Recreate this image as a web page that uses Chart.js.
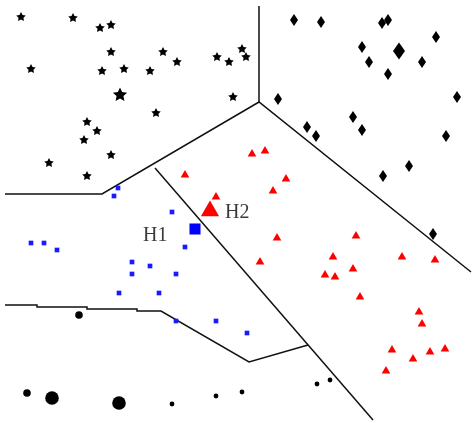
<!DOCTYPE html>
<html>
<head>
<meta charset="utf-8">
<script src="https://cdn.jsdelivr.net/npm/chart.js@4/dist/chart.umd.min.js"></script>
<style>
  html, body { margin: 0; padding: 0; background: #fff; overflow: hidden; }
  #wrap { width: 473px; height: 423px; }
</style>
</head>
<body>
<div id="wrap"><canvas id="chart" width="473" height="423"></canvas></div>
<script>
// point sets (x to the right, y downward)
const stars = [[21,17],[73,18],[100,28],[111,25],[111,52],[31,69],[102,71],[124,69],[163,52],
  [177,62],[150,71],[217,57],[229,62],[242,49],[246,57],[233,97],[156,113],[87,122],[97,131],
  [84,140],[111,155],[49,163],[87,176]];
const starsBig = [[120,95]];

const diamonds = [[294,20],[321,22],[382,23],[388,20],[436,37],[362,47],[369,62],[422,62],
  [388,74],[278,99],[457,97],[353,117],[307,127],[362,130],[316,136],[446,136],[409,166],
  [383,176],[433,234]];
const diamondsBig = [[399,51]];

const triangles = [[252,154],[265,151],[185,175],[286,179],[273,191],[216,197],[277,238],
  [356,236],[333,257],[402,257],[435,260],[260,262],[353,269],[325,275],[335,277],[360,297],
  [419,312],[422,324],[392,350],[430,352],[445,349],[413,359],[386,371]];
const triangleH2 = [[210,211]];

const squares = [[118,188],[114,196],[172,212],[185,247],[31,243],[44,243],[57,250],[132,262],
  [150,266],[132,274],[176,274],[119,293],[159,293],[176,321],[216,321],[247,333]];
const squareH1 = [[195,229]];

const dotsSmall = [[172,404],[216,396],[242,392],[317,384],[330,380]];
const dotsMid = [[79,315],[27,393]];
const dotsLarge = [[52,398],[119,403]];

// boundary polylines
const lineTop = [[259,6],[259,102]];
const lineUpper = [[5,194],[102,194],[259,102],[471,272]];
const lineDiag = [[155,168],[373,420]];
const lineLower = [[5,305],[37,305],[37,307],[87,307],[87,309],[137,309],[137,311],[161,311],
  [249,362],[308,345]];

const labels = [
  { text: "H1", at: [143,241] },
  { text: "H2", at: [225,218] },
];

const toXY = (arr) => arr.map(([x, y]) => ({ x, y }));

// even-sized canvases so drawImage lands on whole pixels
function starImage(outer, inner) {
  const size = 2 * Math.ceil(outer + 1);
  const c = document.createElement("canvas");
  c.width = c.height = size;
  const g = c.getContext("2d");
  g.translate(size / 2, size / 2);
  g.beginPath();
  for (let i = 0; i < 10; i++) {
    const r = i % 2 ? inner : outer;
    const a = -Math.PI / 2 + i * Math.PI / 5;
    g.lineTo(r * Math.cos(a), r * Math.sin(a));
  }
  g.closePath();
  g.fillStyle = "#000";
  g.fill();
  return c;
}

function diamondImage(w, h) {
  const c = document.createElement("canvas");
  c.width = 2 * Math.ceil(w / 2 + 1);
  c.height = 2 * Math.ceil(h / 2 + 1);
  const g = c.getContext("2d");
  const cx = c.width / 2, cy = c.height / 2;
  g.beginPath();
  g.moveTo(cx, cy - h / 2);
  g.lineTo(cx + w / 2, cy);
  g.lineTo(cx, cy + h / 2);
  g.lineTo(cx - w / 2, cy);
  g.closePath();
  g.fillStyle = "#000";
  g.fill();
  return c;
}

function markers(data, style, radius, color) {
  return {
    data: toXY(data),
    pointStyle: style,
    pointRadius: radius,
    pointHoverRadius: radius,
    pointBackgroundColor: color,
    pointBorderWidth: 0,
    showLine: false,
    clip: false,
    order: 0,
  };
}

function polyline(data) {
  return {
    data: toXY(data),
    showLine: true,
    borderColor: "#111",
    borderWidth: 1.5,
    pointRadius: 0,
    pointHoverRadius: 0,
    fill: false,
    clip: false,
    order: 5,
  };
}

const labelPlugin = {
  id: "hLabels",
  afterDatasetsDraw(chart) {
    const { ctx, scales } = chart;
    ctx.save();
    ctx.font = "20px 'Liberation Serif', 'DejaVu Serif', serif";
    ctx.fillStyle = "#3a3a3a";
    ctx.textBaseline = "alphabetic";
    labels.forEach((l) => {
      ctx.fillText(l.text, scales.x.getPixelForValue(l.at[0]), scales.y.getPixelForValue(l.at[1]));
    });
    ctx.restore();
  },
};

new Chart(document.getElementById("chart"), {
  type: "scatter",
  data: {
    datasets: [
      markers(stars, starImage(5, 2.6), 5, "#000"),
      markers(starsBig, starImage(7.5, 3.6), 7, "#000"),
      markers(diamonds, diamondImage(8, 12), 5, "#000"),
      markers(diamondsBig, diamondImage(12, 17), 8, "#000"),
      markers(triangles, "triangle", 5, "#ff0000"),
      markers(triangleH2, "triangle", 10.5, "#ff0000"),
      markers(squares, "rect", 3.3, "#1a1aff"),
      markers(squareH1, "rect", 7.8, "#0000ff"),
      markers(dotsSmall, "circle", 2.4, "#000"),
      markers(dotsMid, "circle", 3.8, "#000"),
      markers(dotsLarge, "circle", 6.8, "#000"),
      polyline(lineTop),
      polyline(lineUpper),
      polyline(lineDiag),
      polyline(lineLower),
    ],
  },
  options: {
    responsive: false,
    animation: false,
    devicePixelRatio: 1,
    layout: { padding: 0, autoPadding: false },
    plugins: { legend: { display: false }, tooltip: { enabled: false } },
    scales: {
      x: { type: "linear", min: 0, max: 473, display: false },
      y: { type: "linear", min: 0, max: 423, reverse: true, display: false },
    },
  },
  plugins: [labelPlugin],
});
</script>
</body>
</html>
